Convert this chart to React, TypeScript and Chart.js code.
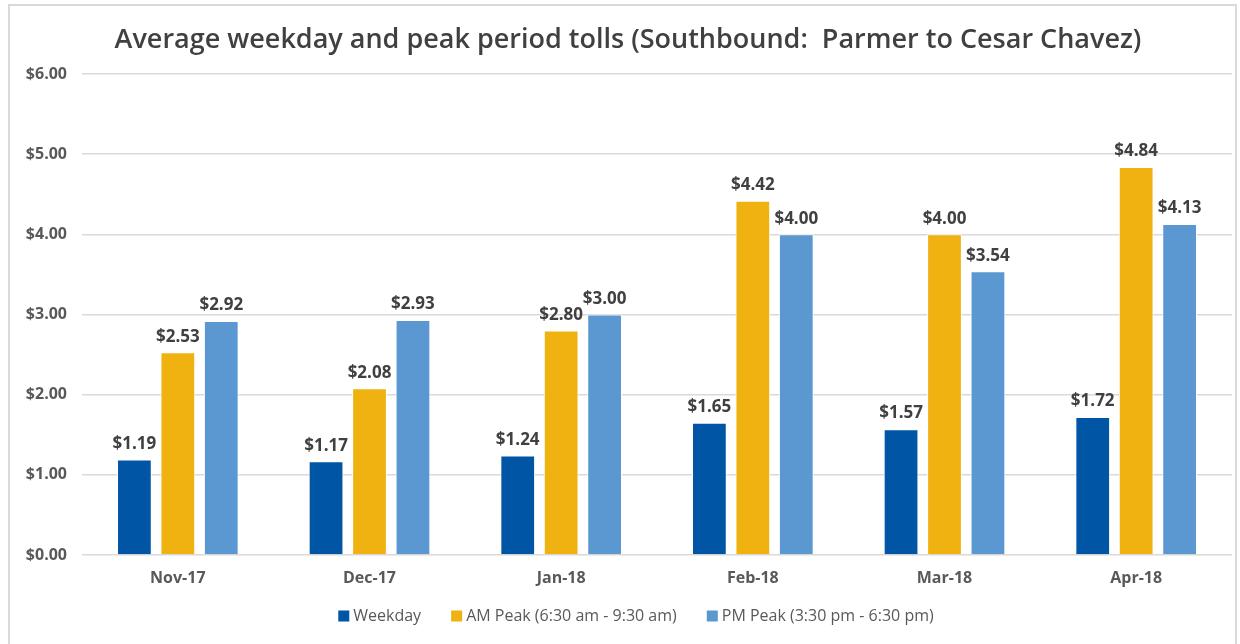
import React, { useEffect, useRef } from "react";
import { Chart, registerables } from "chart.js";

Chart.register(...registerables);

const categories = ["Nov-17", "Dec-17", "Jan-18", "Feb-18", "Mar-18", "Apr-18"];
const weekday = [1.19, 1.17, 1.24, 1.65, 1.57, 1.72];
const amPeak = [2.53, 2.08, 2.8, 4.42, 4.0, 4.84];
const pmPeak = [2.92, 2.93, 3.0, 4.0, 3.54, 4.13];
const seriesNames = ["Weekday", "AM Peak (6:30 am - 9:30 am)", "PM Peak (3:30 pm - 6:30 pm)"];
const seriesColors = ["#0055A5", "#EFB211", "#5B97D1"];
const titleText = "Average weekday and peak period tolls (Southbound:  Parmer to Cesar Chavez)";

const FONT = "'Open Sans', 'Noto Sans', sans-serif";

const framePlugin = {
  id: "frame",
  beforeDraw(chart: any) {
    const ctx = chart.ctx;
    ctx.save();
    ctx.fillStyle = "#ffffff";
    ctx.fillRect(0, 0, chart.width, chart.height);
    ctx.strokeStyle = "#d9d9d9";
    ctx.lineWidth = 2;
    ctx.strokeRect(9, 5, 1227, 700);
    ctx.fillStyle = "#404040";
    ctx.font = `600 27px ${FONT}`;
    ctx.textAlign = "center";
    ctx.textBaseline = "middle";
    ctx.fillText(titleText, 628, 40);
    ctx.restore();
  },
};

const legendPlugin = {
  id: "customLegend",
  afterDraw(chart: any) {
    const ctx = chart.ctx;
    ctx.save();
    ctx.font = `500 16px ${FONT}`;
    ctx.textBaseline = "middle";
    ctx.textAlign = "left";
    const box = 11;
    const gap = 4;
    const itemGap = 30;
    const items = chart.data.datasets.map((ds: any) => ({
      label: ds.label as string,
      color: ds.backgroundColor as string,
      w: ctx.measureText(ds.label).width,
    }));
    const total = items.reduce((a: number, it: any) => a + box + gap + it.w, 0) + itemGap * (items.length - 1);
    let x = 636 - total / 2;
    const y = 616;
    items.forEach((it: any) => {
      ctx.fillStyle = it.color;
      ctx.fillRect(x, y - box / 2, box, box);
      x += box + gap;
      ctx.fillStyle = "#595959";
      ctx.fillText(it.label, x, y);
      x += it.w + itemGap;
    });
    ctx.restore();
  },
};

const labelPlugin = {
  id: "valueLabels",
  afterDatasetsDraw(chart: any) {
    const ctx = chart.ctx;
    ctx.save();
    ctx.font = `bold 17px ${FONT}`;
    ctx.fillStyle = "#404040";
    ctx.textAlign = "center";
    ctx.textBaseline = "bottom";
    chart.data.datasets.forEach((ds: any, i: number) => {
      const meta = chart.getDatasetMeta(i);
      meta.data.forEach((bar: any, j: number) => {
        const v = ds.data[j] as number;
        ctx.fillText("$" + v.toFixed(2), bar.x, bar.y - 7);
      });
    });
    ctx.restore();
  },
};

export default function App() {
  const ref = useRef<HTMLCanvasElement>(null);
  useEffect(() => {
    if (!ref.current) return;
    const chart = new Chart(ref.current, {
      type: "bar",
      data: {
        labels: categories,
        datasets: [
          { label: seriesNames[0], data: weekday, backgroundColor: seriesColors[0], borderColor: "#ffffff", borderWidth: 1 },
          { label: seriesNames[1], data: amPeak, backgroundColor: seriesColors[1], borderColor: "#ffffff", borderWidth: 1 },
          { label: seriesNames[2], data: pmPeak, backgroundColor: seriesColors[2], borderColor: "#ffffff", borderWidth: 1 },
        ],
      },
      options: {
        responsive: false,
        animation: false,
        devicePixelRatio: 1,
        layout: { padding: { top: 74, right: 8, bottom: 51, left: 0 } },
        datasets: { bar: { categoryPercentage: 0.68, barPercentage: 0.8 } },
        plugins: {
          title: { display: false },
          legend: { display: false },
          tooltip: { enabled: false },
        },
        scales: {
          x: {
            grid: { display: false, drawTicks: false },
            border: { display: false },
            ticks: { color: "#595959", font: { family: FONT, size: 16, weight: "bold" }, padding: 14 },
            afterFit: (s: any) => { s.height = 38; },
          },
          y: {
            min: 0,
            max: 6,
            grid: { color: "#d9d9d9", lineWidth: 1.5, drawTicks: false },
            border: { display: false },
            ticks: {
              stepSize: 1,
              color: "#595959",
              font: { family: FONT, size: 16, weight: "bold" },
              padding: 15,
              callback: (v: any) => "$" + Number(v).toFixed(2),
            },
            afterFit: (s: any) => { s.width = 82; },
          },
        },
      },
      plugins: [framePlugin, labelPlugin, legendPlugin],
    });
    return () => chart.destroy();
  }, []);
  return (
    <canvas
      ref={ref}
      width={1240}
      height={644}
      style={{ position: "fixed", left: 0, top: 0, width: 1240, height: 644, display: "block" }}
    />
  );
}
